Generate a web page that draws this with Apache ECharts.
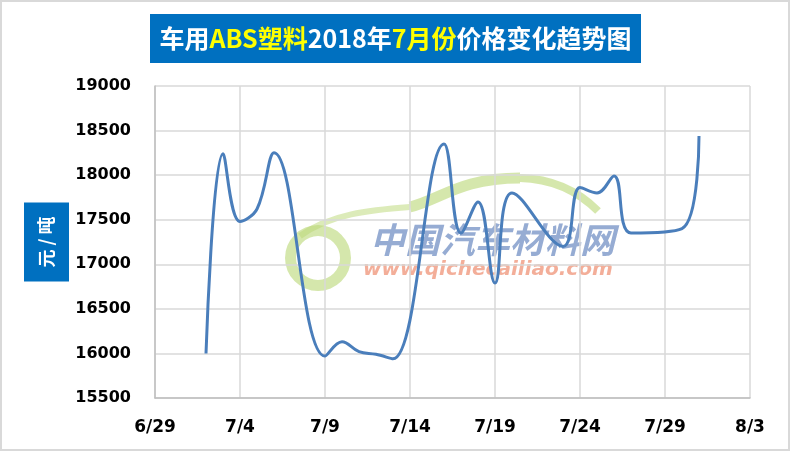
<!DOCTYPE html>
<html>
<head>
<meta charset="utf-8">
<script src="https://cdn.jsdelivr.net/npm/echarts@6/dist/echarts.min.js"></script>
<style>
html,body{margin:0;padding:0;background:#fff;}
#c{width:791px;height:452px;}
</style>
</head>
<body>
<div id="c"></div>
<script>
// ---- data ----
const dates = ['7/2','7/3','7/4','7/5','7/6','7/9','7/10','7/11','7/12','7/13','7/16','7/17','7/18','7/19','7/20','7/23','7/24','7/25','7/26','7/27','7/30','7/31'];
const prices = [16000,18240,17480,17620,18250,15970,16130,16020,15990,15940,18350,17350,17700,16790,17800,17200,17860,17800,17990,17350,17400,18440];
const xTickLabels = ['6/29','7/4','7/9','7/14','7/19','7/24','7/29','8/3'];
const yMin = 15500, yMax = 19000, yStep = 500;
const titleParts = [['车用','w'],['ABS塑料','y'],['2018年','w'],['7月份','y'],['价格变化趋势图','w']];
const yName = '元 / 吨';
const watermarkCN = '中国汽车材料网';
const watermarkURL = 'www.qichecailiao.com';

const base = Date.UTC(2018,5,29);
function dayOffset(s){ const p = s.split('/'); return (Date.UTC(2018, +p[0]-1, +p[1]) - base)/86400000; }
const seriesData = dates.map((d,i)=>[dayOffset(d), prices[i]]);

const chart = echarts.init(document.getElementById('c'), null, {renderer:'canvas'});
const titleText = titleParts.map(p=>'{'+p[1]+'|'+p[0]+'}').join('');
const green = '#b9d774';
const option = {
  backgroundColor:'#ffffff',
  animation:false,
  grid:{left:155, right:41, top:86, bottom:54},
  xAxis:{
    type:'value', min:0, max:35, interval:5,
    axisLine:{show:true, lineStyle:{color:'#bfbfbf', width:1.5}},
    axisTick:{show:false},
    splitLine:{show:true, lineStyle:{color:'#d9d9d9', width:1.5}},
    axisLabel:{
      margin:21, color:'#000', fontSize:17, fontWeight:'bold', fontFamily:'DejaVu Sans',
      formatter:function(v){ return xTickLabels[Math.round(v/5)] || ''; }
    }
  },
  yAxis:{
    type:'value', min:yMin, max:yMax, interval:yStep,
    name:yName, nameLocation:'middle', nameRotate:90, nameGap:86, nameMoveOverlap:false,
    nameTextStyle:{color:'#fff', backgroundColor:'#0070C0', fontSize:18, fontWeight:'bold', fontFamily:'Noto Sans CJK SC', padding:[13,14,13,14], lineHeight:19},
    axisLine:{show:true, lineStyle:{color:'#bfbfbf', width:1.5}},
    axisTick:{show:false},
    splitLine:{show:true, lineStyle:{color:'#d9d9d9', width:1.5}},
    axisLabel:{margin:24, color:'#000', fontSize:16, fontWeight:'bold', fontFamily:'DejaVu Sans',
      formatter:function(v){ return String(v); }}
  },
  graphic:[
    {type:'rect', shape:{x:1, y:1, width:788, height:449}, style:{fill:'none', stroke:'#d9d9d9', lineWidth:2}, z:-10},
    {type:'ring', shape:{cx:318, cy:258, r:33, r0:22}, style:{fill:green, opacity:0.6}, z:-5},
    {type:'bezierCurve', shape:{x1:300, y1:236, cpx1:330, cpy1:214, cpx2:370, cpy2:210, x2:410, y2:207}, style:{fill:'none', stroke:green, lineWidth:6, opacity:0.5}, z:-5},
    {type:'bezierCurve', shape:{x1:410, y1:207, cpx1:440, cpy1:200, cpx2:460, cpy2:178, x2:520, y2:178}, style:{fill:'none', stroke:green, lineWidth:11, opacity:0.6}, z:-5},
    {type:'bezierCurve', shape:{x1:520, y1:178, cpx1:560, cpy1:179, cpx2:585, cpy2:198, x2:598, y2:211}, style:{fill:'none', stroke:green, lineWidth:8, opacity:0.6}, z:-5},
    {type:'text', x:370, y:240, style:{text:watermarkCN, fill:'#7390c4', opacity:0.75, font:'italic bold 35px "Noto Sans CJK SC"', textVerticalAlign:'middle', textAlign:'left'}, z:-4},
    {type:'text', x:363, y:270, style:{text:watermarkURL, fill:'#f09a80', opacity:0.8, font:'italic bold 20px "DejaVu Sans"', textVerticalAlign:'middle', textAlign:'left'}, z:-4},
    {type:'rect', shape:{x:150, y:14, width:491, height:49}, style:{fill:'#0070C0'}, z:10},
    {type:'text', x:395.5, y:38.5, style:{rich:{
        w:{fill:'#ffffff', fontSize:25, fontWeight:'bold', fontFamily:'Noto Sans CJK SC'},
        y:{fill:'#ffff00', fontSize:25, fontWeight:'bold', fontFamily:'Noto Sans CJK SC'}
      }, text:titleText, textAlign:'center', textVerticalAlign:'middle'}, z:11}
  ],
  series:[{
    type:'line', data:seriesData, smooth:0.4, showSymbol:false,
    lineStyle:{color:'#4a7ebb', width:3}, z:5
  }]
};
chart.setOption(option);
</script>
</body>
</html>
